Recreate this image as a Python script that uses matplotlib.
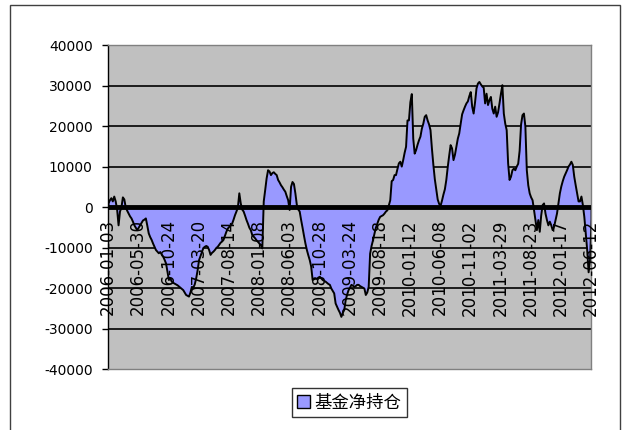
import matplotlib
matplotlib.use("Agg")
import matplotlib.pyplot as plt
from matplotlib.patches import Patch, Rectangle

plt.rcParams['font.family'] = ['DejaVu Sans', 'Noto Sans CJK SC']

# weekly fund net position, 2006-01-03 .. 2012-06-12
net_position = [
    1000, 1800, 2300, 1500, 2700, 1500, -500, -4400, -1000, 0,
    2500, 2000, 0, -800, -1500, -2200, -2700, -3500, -4400, -5000,
    -5600, -5000, -4400, -3800, -3200, -3000, -2700, -4500, -6400, -7300,
    -8000, -8900, -9700, -10500, -10900, -11300, -11000, -11600, -12100, -12900,
    -13800, -15800, -17900, -17500, -18300, -18600, -18800, -19000, -19200, -19500,
    -19800, -20100, -20400, -21000, -21600, -21800, -22000, -21000, -19600, -19800,
    -19000, -17500, -15500, -13000, -12000, -11000, -10000, -9700, -9500, -9700,
    -10500, -11700, -11200, -10900, -10500, -10000, -9700, -9200, -8700, -8400,
    -8000, -7000, -6000, -5200, -4800, -4400, -4000, -3000, -1900, -1000,
    0, 3500, 1000, -500, -1000, -2000, -3100, -4000, -5000, -5600,
    -6800, -7200, -7600, -8100, -8500, -8900, -9300, -10100, 1500, 4300,
    7200, 9200, 8900, 8000, 8500, 8700, 8300, 8000, 6800, 6200,
    5500, 5000, 4400, 3900, 2800, 1800, -600, 5100, 6300, 5800,
    3500, 700, -500, -1000, -3100, -5000, -7000, -8900, -10500, -11800,
    -13000, -14600, -17900, -17700, -17600, -17600, -17300, -17100, -17500, -17900,
    -18100, -18300, -18600, -18900, -19100, -20000, -20600, -21200, -23700, -24500,
    -25300, -26000, -27000, -26000, -25300, -22900, -21500, -20400, -19800, -19100,
    -19300, -19600, -19400, -19100, -19100, -19400, -19600, -19800, -20000, -21600,
    -21000, -19600, -11400, -9500, -8100, -6500, -5000, -4000, -3000, -2300,
    -2100, -1900, -1500, -1000, -700, 500, 1800, 6500, 6800, 8000,
    8000, 9500, 10900, 11300, 10100, 11700, 13500, 15000, 21500, 21500,
    26000, 28000, 17000, 13300, 14200, 15500, 16600, 17500, 19500, 20700,
    22400, 22800, 21500, 20500, 19100, 14500, 10500, 7000, 4500, 2000,
    900, 400, 1700, 3200, 4500, 6800, 10000, 12800, 15400, 14600,
    11700, 13000, 15000, 17000, 18300, 20700, 23000, 24000, 24900, 25700,
    26200, 27500, 28500, 24900, 23200, 26000, 29400, 30600, 31000, 30400,
    29900, 29600, 25700, 28100, 25300, 26500, 27300, 24400, 23200, 24900,
    22400, 23500, 25700, 28100, 30200, 23200, 20700, 19100, 10900, 6800,
    7600, 9200, 9600, 9200, 10100, 10800, 14000, 20500, 22800, 23200,
    20000, 9200, 5500, 3500, 2500, 1800, -600, -3100, -5600, -3100,
    -6000, -2000, 600, 1000, -1500, -3100, -4400, -3500, -4400, -5600,
    -4700, -3100, -1500, 1000, 3500, 5200, 6500, 7600, 8400, 9200,
    10100, 10600, 11300, 10500, 7600, 5500, 3500, 1500, 1500, 2700,
    600, -2300, -6400, -10500, -16000, -13000, -3000,
]

date_labels = [
    '2006-01-03', '2006-05-30', '2006-10-24', '2007-03-20', '2007-08-14',
    '2008-01-08', '2008-06-03', '2008-10-28', '2009-03-24', '2009-08-18',
    '2010-01-12', '2010-06-08', '2010-11-02', '2011-03-29', '2011-08-23',
    '2012-01-17', '2012-06-12',
]
label_step = 21

y_ticks = [-40000, -30000, -20000, -10000, 0, 10000, 20000, 30000, 40000]

fig = plt.figure(figsize=(6.29, 4.30), dpi=100)
fig.patch.set_facecolor('white')

# chart frame
fig.patches.append(Rectangle((10 / 629, -0.05), 610 / 629, 1.05 - 5 / 430,
                             transform=fig.transFigure, fill=False,
                             edgecolor='#404040', linewidth=1.0))

ax = fig.add_axes([108 / 629, 1 - 369 / 430, 483 / 629, 324 / 430])
ax.set_facecolor('#C0C0C0')

x = list(range(len(net_position)))
n_last = len(net_position) - 1

for yv in y_ticks:
    if yv not in (0, -40000, 40000):
        ax.axhline(yv, color='black', linewidth=1.2, zorder=1)

ax.fill_between(x, 0, net_position, facecolor='#9999FF', edgecolor='black',
                linewidth=1.4, zorder=2)
ax.axhline(0, color='black', linewidth=3.5, zorder=3)

ax.set_xlim(0, n_last)
ax.set_ylim(-40000, 40000)
ax.set_yticks(y_ticks)
ax.set_yticklabels([str(v) for v in y_ticks], fontsize=10)
ax.tick_params(axis='y', direction='out', length=4, width=1, pad=7)
ax.set_xticks([])

for k, lab in enumerate(date_labels):
    ax.text(k * label_step, -3000, lab, rotation=90, ha='center', va='top',
            fontsize=12, color='black', zorder=4)

ax.spines['left'].set_color('black')
ax.spines['left'].set_linewidth(1.0)
for side in ('top', 'right', 'bottom'):
    ax.spines[side].set_color('#808080')
    ax.spines[side].set_linewidth(1.0)

leg = fig.legend(handles=[Patch(facecolor='#9999FF', edgecolor='black',
                                label='基金净持仓')],
                 loc='center', bbox_to_anchor=(349.5 / 629, 1 - 402.5 / 430),
                 fontsize=12.5, frameon=True, fancybox=False, handlelength=0.7,
                 handleheight=0.7, handletextpad=0.3, borderpad=0.3)
leg.get_frame().set_edgecolor('black')
leg.get_frame().set_linewidth(1.0)

fig.savefig('out.png', dpi=100)
